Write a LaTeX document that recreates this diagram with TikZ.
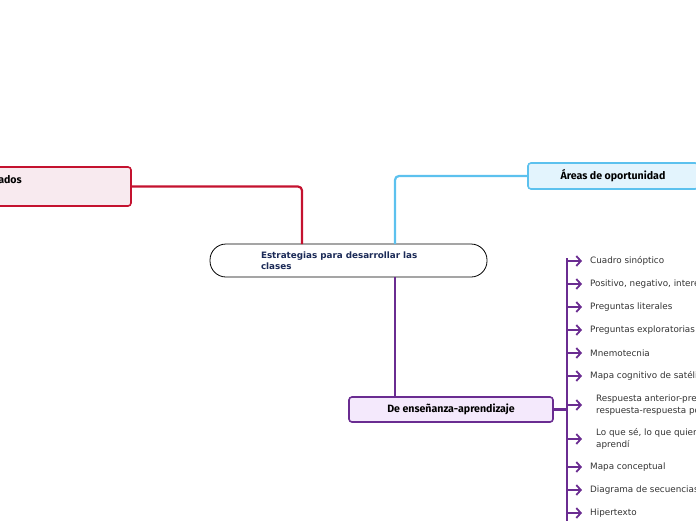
\documentclass[tikz,border=0pt]{standalone}
\usepackage{fontspec}
\setmainfont{DejaVu Sans}
\newfontfamily\topicfont{Fira Sans}
\usetikzlibrary{arrows.meta}
\definecolor{ruby}{HTML}{C4122F}
\definecolor{rubyfill}{HTML}{F8EAEF}
\definecolor{sky}{HTML}{5CC1EE}
\definecolor{skyfill}{HTML}{E3F4FD}
\definecolor{grape}{HTML}{6A2C91}
\definecolor{grapefill}{HTML}{F4E9FC}
\definecolor{navy}{HTML}{1B2A57}
\definecolor{itemgray}{HTML}{333333}
\tikzset{
  topic/.style={draw, line width=1.6pt, rounded corners=3pt, inner sep=0pt,
    font=\topicfont\bfseries\fontsize{10.6}{12}\selectfont},
  central/.style={draw, line width=0.8pt, fill=white, rounded corners=16pt,
    minimum width=277pt, minimum height=33pt, inner sep=0pt, text width=175pt,
    align=left, text=navy, font=\bfseries\fontsize{8.8}{11}\selectfont},
  link/.style={line width=2.2pt, rounded corners=4pt},
  branch/.style={grape, line width=2.2pt, -{Straight Barb[length=4.5pt,width=10pt,line width=1.8pt]}},
  leaf/.style={anchor=west, inner sep=0pt, align=left, text=itemgray,
    font=\fontsize{8.8}{12.5}\selectfont}
}
\begin{document}
\begin{tikzpicture}[x=1pt,y=-1pt]
\path[use as bounding box, clip] (0,0) rectangle (696,520);

% main topic
\node[central] (root) at (348.5,260.5) {Estrategias para desarrollar las\\clases};

% subtopics
\node[topic, color=ruby, fill=rubyfill, minimum width=212pt, minimum height=39pt] (goals) at (25,186.5) {};
\node[anchor=base east, inner sep=0pt, font=\topicfont\bfseries\fontsize{10.6}{12}\selectfont] (goalstext) at (22,183) {ados};
\node[topic, color=sky, fill=skyfill, text=black, minimum width=170pt, minimum height=26pt] (areas) at (613,176) {Áreas de oportunidad};
\node[topic, color=grape, fill=grapefill, text=black, minimum width=204pt, minimum height=25pt] (learn) at (451,409.5) {De enseñanza-aprendizaje};

\coordinate (redjoin) at (302,244);
\coordinate (bluejoin) at (395,244);
\coordinate (purplejoin) at (395,277);
\coordinate (bartop) at (567,258);
\coordinate (barend) at (567,530);

\draw[link, ruby] (goals.east) -| (redjoin);
\draw[link, sky] (areas.west) -| (bluejoin);
\draw[link, grape] (purplejoin) -- (purplejoin |- learn.north);

% strategies
\draw[grape, line width=3.5pt] (learn.east) -- (learn.east -| bartop);
\draw[grape, line width=2.2pt] (barend) -- (bartop);
\foreach \n/\x/\y/\s/\t in {
  1/590/261/8/{Cuadro sinóptico},
  2/590/284/8/{Positivo, negativo, interesante},
  3/590/307/8/{Preguntas literales},
  4/590/330/8/{Preguntas exploratorias},
  5/590/353/8/{Mnemotecnia},
  6/590/376/8/{Mapa cognitivo de satélites},
  7/596/405/14/{Respuesta anterior-pregunta-\\respuesta-respuesta posterior},
  8/596/439/14/{Lo que sé, lo que quiero saber y lo que\\aprendí},
  9/590/467/8/{Mapa conceptual},
  10/590/490/8/{Diagrama de secuencias},
  11/590/513/8/{Hipertexto}} {
  \node[leaf] (item\n) at (\x,\y) {\t};
  \draw[branch, shorten >=\s pt] (item\n.west -| bartop) -- (item\n.west);
}
\end{tikzpicture}
\end{document}
